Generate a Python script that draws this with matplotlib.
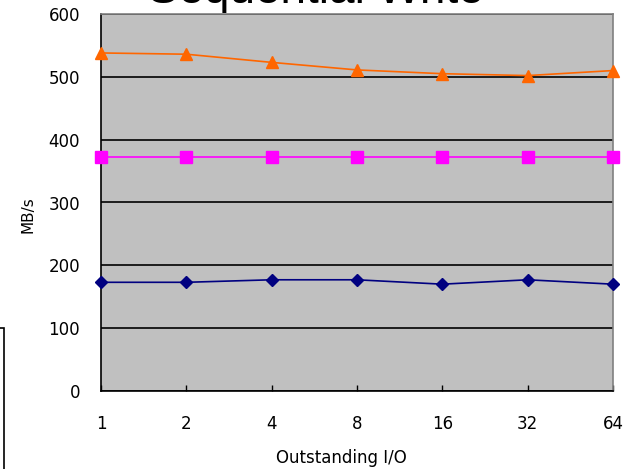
import matplotlib.pyplot as plt
from matplotlib.patches import Rectangle

# Outstanding I/O levels and throughput (MB/s)
io_labels = ["1", "2", "4", "8", "16", "32", "64"]
orange_mbs = [538, 536, 523, 511, 505, 502, 510]
magenta_mbs = [372, 372, 372, 372, 372, 372, 372]
navy_mbs = [173, 173, 177, 177, 170, 177, 170]

W, H, DPI = 632, 469, 100
fig = plt.figure(figsize=(W / DPI, H / DPI), dpi=DPI)
fig.patch.set_facecolor("white")

# axes placed in pixel terms
left, right, top, bottom = 101, 613, 14, 391
ax = fig.add_axes([left / W, 1 - bottom / H, (right - left) / W, (bottom - top) / H])
ax.set_facecolor("#C0C0C0")

x = list(range(len(io_labels)))
ax.plot(x, orange_mbs, color="#FF6600", lw=1.2, marker="^", ms=9, clip_on=False, zorder=5)
ax.plot(x, magenta_mbs, color="#FF00FF", lw=1.2, marker="s", ms=8, clip_on=False, zorder=5)
ax.plot(x, navy_mbs, color="#000080", lw=1.2, marker="D", ms=6.5, clip_on=False, zorder=5)

ax.set_xlim(0, 6)
ax.set_ylim(0, 600)
ax.set_yticks(range(0, 601, 100))
ax.yaxis.grid(True, color="black", lw=1.2)
ax.set_axisbelow(True)
ax.set_xticks(x)
ax.set_xticklabels(io_labels)

ax.tick_params(axis="x", direction="in", length=4, width=1, pad=17, labelsize=12)
ax.tick_params(axis="y", length=0, pad=15, labelsize=12)

for s in ["left", "bottom"]:
    ax.spines[s].set_color("black")
    ax.spines[s].set_linewidth(1.2)
for s in ["top", "right"]:
    ax.spines[s].set_color("#808080")
    ax.spines[s].set_linewidth(1.2)

fig.text(341 / W, 1 - 458 / H, "Outstanding I/O", ha="center", va="center", fontsize=12)
fig.text(28 / W, 1 - 215 / H, "MB/s", ha="center", va="center", rotation=90, fontsize=11)

fig.text(316 / W, 1 - 3 / H, "Sequential Write", ha="center", va="baseline",
         fontsize=33, family="Liberation Sans")

# edge of the legend box peeking in at the bottom left
fig.patches.append(Rectangle((-100 / W, -10 / H), 104 / W, (H - 328 + 10) / H,
                             transform=fig.transFigure, fill=False,
                             edgecolor="black", lw=1.2))

fig.savefig("out.png", dpi=DPI)
